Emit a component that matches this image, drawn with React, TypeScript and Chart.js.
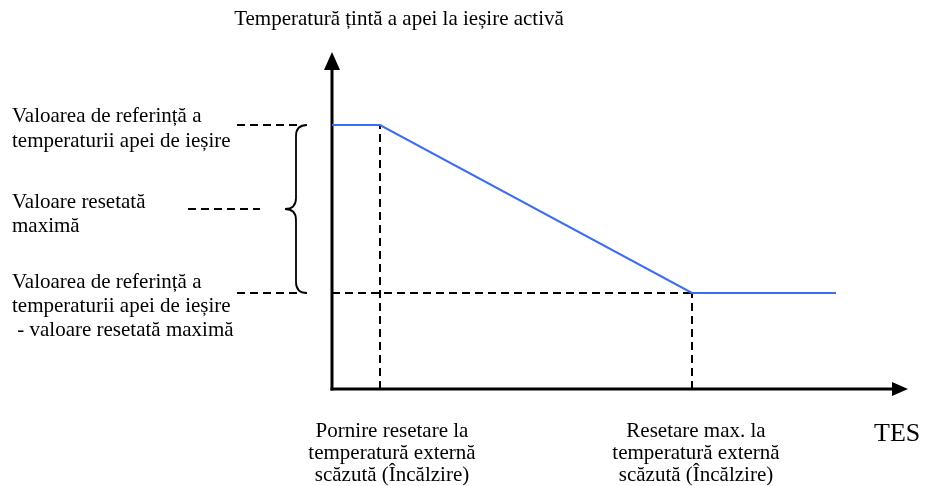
import React, { useEffect, useRef } from "react";
import { Chart, registerables } from "chart.js";

Chart.register(...registerables);

// Horizontal axis (outside temperature, schematic units)
const tesX = [0, 1, 7.5, 10.5];
// Active leaving water target temperature (schematic units)
const targetY = [11, 11, 4, 4];

const resetStartX = 1; // Pornire resetare
const resetMaxX = 7.5; // Resetare max.
const setpointY = 11; // valoarea de referință
const setpointMinusResetY = 4; // referință - resetare max.
const maxResetMidY = 7.5; // valoare resetată maximă (middle of brace)

const titleText = "Temperatură țintă a apei la ieșire activă";
const xAxisName = "TES";
const leftLabelTop = ["Valoarea de referință a", "temperaturii apei de ieșire"];
const leftLabelMid = ["Valoare resetată", "maximă"];
const leftLabelBottom = [
  "Valoarea de referință a",
  "temperaturii apei de ieșire",
  " - valoare resetată maximă",
];
const bottomLabelStart = ["Pornire resetare la", "temperatură externă", "scăzută (Încălzire)"];
const bottomLabelMax = ["Resetare max. la", "temperatură externă", "scăzută (Încălzire)"];

const FONT = '"Liberation Serif", "Times New Roman", serif';
const DASH = [8, 5];

const overlayPlugin = {
  id: "schematicOverlay",
  beforeDatasetsDraw(chart: any) {
    const { ctx, chartArea, scales } = chart;
    const xs = scales.x;
    const ys = scales.y;
    const ox = xs.getPixelForValue(0);
    const oy = ys.getPixelForValue(0);
    ctx.save();
    ctx.strokeStyle = "#000";
    ctx.fillStyle = "#000";
    ctx.lineWidth = 3;
    // y axis
    ctx.beginPath();
    ctx.moveTo(ox, oy + 1.5);
    ctx.lineTo(ox, chartArea.top + 16);
    ctx.stroke();
    ctx.beginPath();
    ctx.moveTo(ox, chartArea.top - 1);
    ctx.lineTo(ox - 8, chartArea.top + 17);
    ctx.lineTo(ox + 8, chartArea.top + 17);
    ctx.closePath();
    ctx.fill();
    // x axis
    ctx.beginPath();
    ctx.moveTo(ox - 1.5, oy);
    ctx.lineTo(chartArea.right - 15, oy);
    ctx.stroke();
    ctx.beginPath();
    ctx.moveTo(chartArea.right, oy);
    ctx.lineTo(chartArea.right - 16, oy - 7);
    ctx.lineTo(chartArea.right - 16, oy + 7);
    ctx.closePath();
    ctx.fill();
    ctx.restore();
  },
  afterDraw(chart: any) {
    const { ctx, chartArea, scales } = chart;
    const xs = scales.x;
    const ys = scales.y;
    const left = chartArea.left;
    const yTop = ys.getPixelForValue(setpointY);
    const yBot = ys.getPixelForValue(setpointMinusResetY);
    const yMid = ys.getPixelForValue(maxResetMidY);

    ctx.save();
    ctx.strokeStyle = "#000";
    ctx.lineWidth = 2;
    ctx.setLineDash(DASH);
    ctx.beginPath();
    ctx.moveTo(left - 95, yTop);
    ctx.lineTo(left - 30, yTop);
    ctx.moveTo(left - 95, yBot);
    ctx.lineTo(left - 30, yBot);
    ctx.moveTo(left - 144, yMid);
    ctx.lineTo(left - 72, yMid);
    ctx.stroke();
    ctx.setLineDash([]);

    // curly brace
    const bx = left - 36;
    const r = 11;
    ctx.lineWidth = 1.8;
    ctx.beginPath();
    ctx.moveTo(bx + r, yTop);
    ctx.quadraticCurveTo(bx, yTop, bx, yTop + r);
    ctx.lineTo(bx, yMid - r);
    ctx.quadraticCurveTo(bx, yMid, bx - r, yMid);
    ctx.quadraticCurveTo(bx, yMid, bx, yMid + r);
    ctx.lineTo(bx, yBot - r);
    ctx.quadraticCurveTo(bx, yBot, bx + r, yBot);
    ctx.stroke();

    // texts
    ctx.fillStyle = "#000";
    ctx.textBaseline = "alphabetic";
    ctx.font = `21px ${FONT}`;
    ctx.textAlign = "center";
    ctx.fillText(titleText, 399, 25);

    ctx.textAlign = "left";
    const drawLines = (lines: string[], x: number, y0: number, lh: number) => {
      lines.forEach((t, i) => ctx.fillText(t, x, y0 + i * lh));
    };
    drawLines(leftLabelTop, 12, yTop - 3, 25);
    drawLines(leftLabelMid, 12, yMid - 1, 24);
    drawLines(leftLabelBottom, 12, yBot - 5, 24);

    ctx.textAlign = "center";
    const cx1 = xs.getPixelForValue(resetStartX) + 12;
    const cx2 = xs.getPixelForValue(resetMaxX) + 4;
    drawLines(bottomLabelStart, cx1, 437, 22);
    drawLines(bottomLabelMax, cx2, 437, 22);

    ctx.textAlign = "left";
    ctx.font = `26px ${FONT}`;
    ctx.fillText(xAxisName, 874, 441);
    ctx.restore();
  },
};

export default function App() {
  const canvasRef = useRef<HTMLCanvasElement | null>(null);

  useEffect(() => {
    if (!canvasRef.current) return;
    const line = (xv: number[], yv: number[]) => xv.map((x, i) => ({ x, y: yv[i] }));
    const guide = (label: string, xv: number[], yv: number[]) => ({
      label,
      data: line(xv, yv),
      showLine: true,
      borderColor: "#000",
      borderWidth: 2,
      borderDash: DASH,
      pointRadius: 0,
    });
    const chart = new Chart(canvasRef.current, {
      type: "scatter",
      data: {
        datasets: [
          {
            label: "target",
            data: line(tesX, targetY),
            showLine: true,
            borderColor: "#3b6cf2",
            borderWidth: 2,
            pointRadius: 0,
            tension: 0,
          },
          guide("guideStart", [resetStartX, resetStartX], [0, setpointY]),
          guide("guideMax", [resetMaxX, resetMaxX], [0, setpointMinusResetY]),
          guide("guideLow", [0, resetMaxX], [setpointMinusResetY, setpointMinusResetY]),
        ],
      },
      options: {
        responsive: false,
        animation: false,
        devicePixelRatio: 1,
        layout: { padding: { left: 332, right: 17, top: 53, bottom: 97 } },
        scales: {
          x: { type: "linear", min: 0, max: 12, display: false },
          y: { type: "linear", min: 0, max: 14, display: false },
        },
        plugins: { legend: { display: false }, tooltip: { enabled: false }, title: { display: false } },
      },
      plugins: [overlayPlugin],
    });
    return () => chart.destroy();
  }, []);

  return (
    <div style={{ position: "absolute", left: 0, top: 0, width: 925, height: 486, background: "#fff" }}>
      <canvas ref={canvasRef} width={925} height={486} style={{ display: "block" }} />
    </div>
  );
}
